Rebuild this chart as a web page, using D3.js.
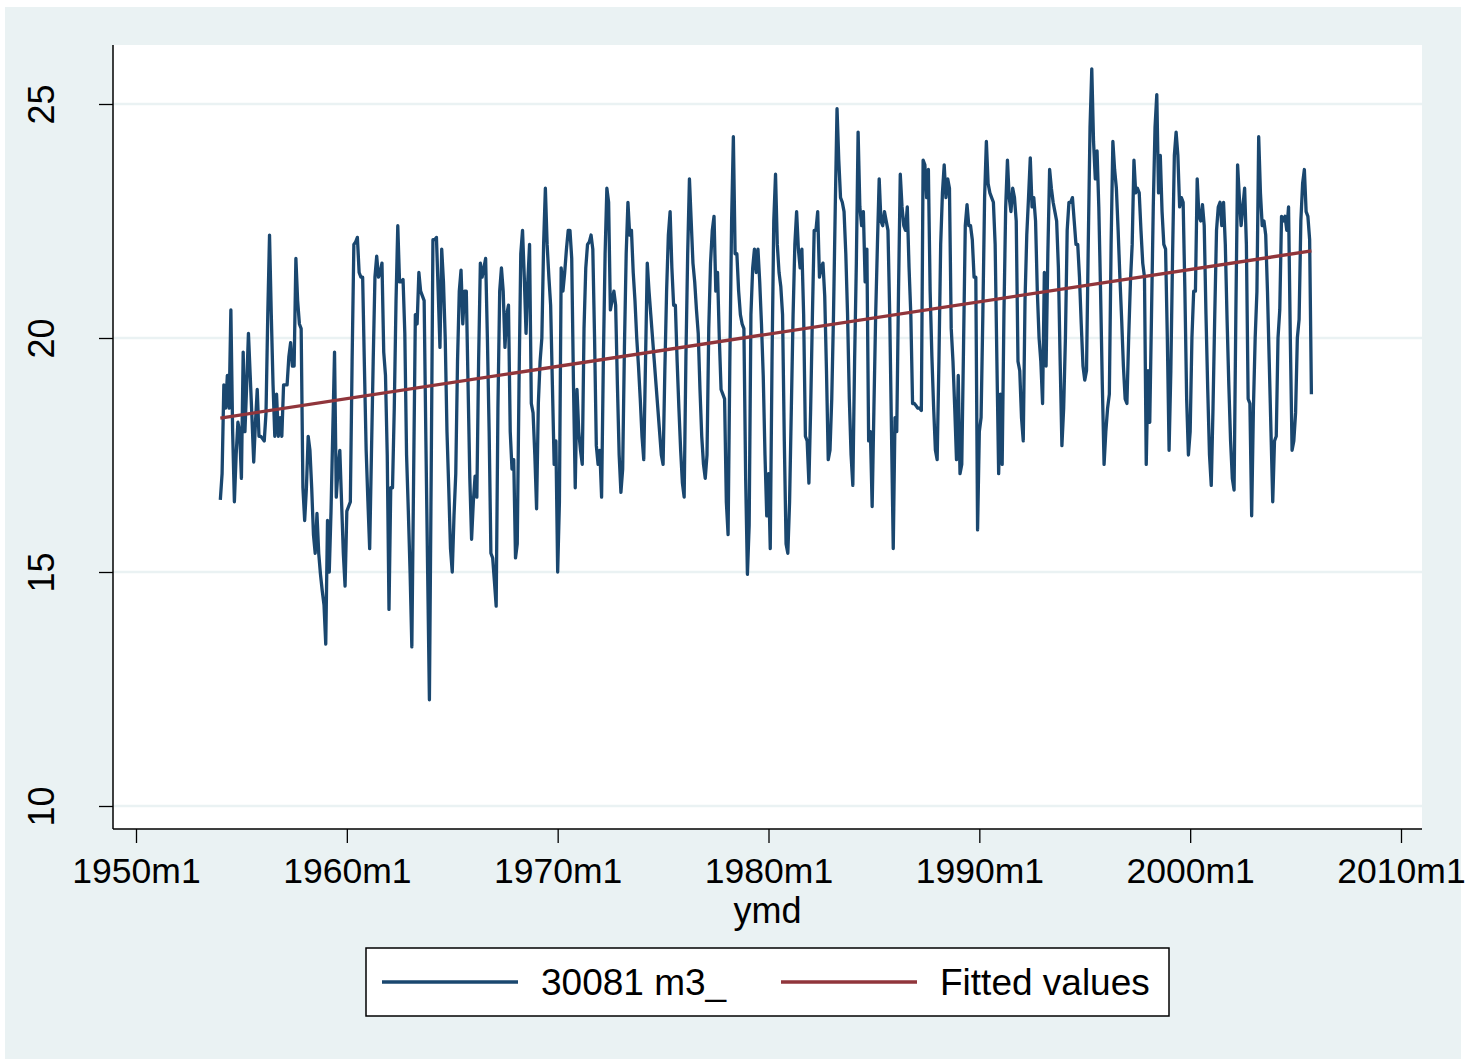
<!DOCTYPE html>
<html>
<head>
<meta charset="utf-8">
<script src="https://cdn.jsdelivr.net/npm/d3@7/dist/d3.min.js"></script>
<style>
  body { margin: 0; background: #fff; }
  text { font-family: "Liberation Sans", Arial, sans-serif; fill: #000; }
</style>
</head>
<body>
<div id="chart"></div>
<script>
// months counted from 1960m1 (Stata %tm); series starts 1954m1
var firstMonth = -72;

// 30081 m3_ , one row per year 1954..2005
var m3 = [
  16.54, 17.1, 19.0, 18.5, 19.2, 18.5, 20.6, 18.0, 16.5, 17.5, 18.2, 18.0,
  17.0, 19.7, 18.0, 19.0, 20.1, 19.2, 18.3, 17.35, 18.2, 18.9, 17.9, 17.9,
  17.85, 17.8, 18.4, 20.5, 22.2, 20.5, 19.0, 17.9, 18.8, 17.9, 18.3, 17.9,
  19.0, 19.0, 19.0, 19.6, 19.9, 19.4, 19.4, 21.7, 20.8, 20.3, 20.2, 16.8,
  16.1, 16.8, 17.9, 17.6, 16.8, 15.8, 15.4, 16.25, 15.4, 14.95, 14.6, 14.3,
  13.46, 16.1, 15.0, 16.3, 18.0, 19.7, 16.6, 17.2, 17.6, 16.5, 15.4, 14.7,
  16.3, 16.4, 16.5, 19.5, 22.0, 22.05, 22.15, 21.4, 21.3, 21.3, 19.4, 17.6,
  16.5, 15.5, 17.5, 19.5, 21.3, 21.75, 21.3, 21.4, 21.6, 19.7, 19.2, 17.5,
  14.2, 16.8, 16.8, 18.5, 20.8, 22.4, 21.2, 21.2, 21.25, 20.1, 17.5, 16.3,
  15.0, 13.4, 17.0, 20.5, 20.3, 21.4, 21.0, 20.9, 20.8, 17.8, 15.0, 12.27,
  17.0, 22.1, 22.1, 22.15, 21.0, 19.8, 21.9, 21.2, 20.0, 18.0, 16.8, 15.5,
  15.0, 16.2, 17.1, 19.5, 21.0, 21.45, 20.3, 21.0, 21.0, 19.0, 17.0, 15.7,
  16.5, 17.05, 16.6, 19.5, 21.6, 21.3, 21.5, 21.7, 20.0, 18.0, 15.4, 15.3,
  14.8, 14.27, 18.5, 21.0, 21.5, 21.0, 19.8, 20.5, 20.7, 18.0, 17.2, 17.4,
  15.3, 15.6, 19.0, 21.8, 22.3, 21.3, 20.1, 21.2, 22.0, 18.6, 18.4, 17.5,
  16.35, 18.6, 19.5, 20.0, 22.0, 23.2, 22.0, 21.3, 20.7, 19.0, 17.3, 17.8,
  15.0, 16.5, 21.5, 21.0, 21.4, 21.9, 22.3, 22.3, 21.7, 19.0, 16.8, 18.9,
  18.0, 17.6, 17.3, 20.2, 21.5, 22.0, 22.05, 22.2, 21.9, 20.0, 17.7, 17.3,
  17.6, 16.6, 19.5, 21.8, 23.2, 22.9, 20.6, 20.8, 21.0, 20.7, 19.0, 17.5,
  16.7, 17.2, 19.8, 21.8, 22.9, 22.2, 22.3, 21.4, 20.8, 20.0, 19.4, 18.7,
  17.9, 17.4, 19.5, 21.6, 21.0, 20.5, 20.0, 19.5, 19.0, 18.5, 18.0, 17.5,
  17.3, 19.3, 21.0, 22.2, 22.7, 21.5, 20.7, 20.7, 19.5, 18.5, 17.6, 16.9,
  16.6, 19.6, 21.8, 23.4, 22.5, 21.6, 21.2, 20.6, 20.1, 18.9, 17.9, 17.3,
  17.0, 17.5, 20.2, 21.6, 22.3, 22.6, 21.0, 21.4, 20.0, 18.9, 18.8, 18.7,
  16.5, 15.8, 19.5, 22.5, 24.3, 21.8, 21.8, 21.0, 20.5, 20.3, 20.2, 17.0,
  14.95, 16.0, 20.5, 21.5, 21.9, 21.4, 21.9, 21.2, 20.3, 19.2, 17.5, 16.2,
  17.1, 15.5, 19.5, 22.5, 23.5, 22.0, 21.4, 21.1, 20.5, 17.8, 15.6, 15.4,
  16.5, 18.5, 20.5, 22.0, 22.7, 21.9, 21.5, 21.9, 20.5, 17.9, 17.8, 16.9,
  18.5, 20.5, 22.3, 22.3, 22.7, 21.3, 21.5, 21.6, 20.9, 19.3, 17.4, 17.6,
  18.7, 20.5, 22.8, 24.9, 23.8, 23.0, 22.9, 22.7, 21.8, 20.5, 18.7, 17.5,
  16.85, 19.5, 21.6, 24.4, 22.8, 22.4, 22.7, 21.2, 21.9, 17.8, 18.0, 16.4,
  18.5, 20.5, 22.0, 23.4, 22.5, 22.4, 22.7, 22.5, 22.3, 20.5, 18.0, 15.5,
  18.3, 18.0, 21.0, 23.5, 22.8, 22.4, 22.3, 22.8, 21.5, 20.5, 18.6, 18.6,
  18.55, 18.5, 18.5, 18.45, 23.8, 23.7, 23.0, 23.6, 21.0, 19.6, 18.5, 17.6,
  17.4, 19.5, 22.0, 23.1, 23.7, 23.0, 23.4, 23.2, 20.2, 19.5, 18.5, 17.4,
  19.2, 17.1, 17.3, 19.8, 22.4, 22.85, 22.4, 22.4, 22.1, 21.3, 21.3, 15.9,
  18.0, 18.3, 20.5, 23.0, 24.2, 23.3, 23.1, 23.0, 22.9, 22.0, 19.5, 17.1,
  18.8, 17.3, 20.5, 22.8, 23.8, 23.0, 22.7, 23.2, 23.0, 22.5, 19.5, 19.3,
  18.3, 17.8, 20.8, 22.2, 23.0, 23.85, 22.8, 23.0, 22.5, 21.0, 20.0, 19.5,
  18.6, 21.4, 19.4, 21.8, 23.6, 23.2, 22.9, 22.7, 22.5, 21.5, 19.5, 17.7,
  18.5, 20.0, 22.3, 22.9, 22.9, 23.0, 22.5, 22.0, 22.0, 21.3, 20.3, 19.4,
  19.1, 19.3, 22.0, 24.5, 25.75, 24.2, 23.4, 24.0, 22.8, 21.0, 19.0, 17.3,
  18.0, 18.5, 18.8, 22.0, 24.2, 23.6, 23.2, 22.3, 21.3, 20.4, 19.4, 18.7,
  18.6, 20.0, 21.2, 22.0, 23.8, 23.1, 23.2, 23.1, 22.3, 21.6, 21.3, 17.3,
  19.3, 18.2, 20.5, 22.8, 24.5, 25.2, 23.1, 23.9, 22.7, 22.0, 21.9, 20.0,
  17.6, 19.3, 21.8, 23.9, 24.4, 23.9, 22.8, 23.0, 22.9, 21.0, 18.7, 17.5,
  18.0, 20.0, 21.0, 21.0, 23.4, 22.6, 22.5, 22.85, 22.4, 20.5, 18.9, 17.5,
  16.85, 18.5, 20.5, 22.3, 22.8, 22.9, 22.4, 22.9, 22.0, 20.4, 19.0, 17.8,
  17.0, 16.75, 20.5, 23.7, 23.0, 22.4, 22.8, 23.2, 22.0, 18.7, 18.6, 16.2,
  18.5, 20.0, 21.0, 24.3, 23.1, 22.4, 22.5, 22.2, 21.0, 19.5, 18.0, 16.5,
  17.8, 17.9, 20.0, 20.6, 22.6, 22.5, 22.6, 22.3, 22.8, 20.0, 17.6, 17.8,
  18.4, 20.0, 20.4, 22.5, 23.3, 23.6, 22.7, 22.6, 22.1, 18.8
];

// linear fit, value at first and last month
var fitted = [18.29, 21.86];

var xTicks = [-120, 0, 120, 240, 360, 480, 600];
var xLabels = ["1950m1", "1960m1", "1970m1", "1980m1", "1990m1", "2000m1", "2010m1"];
var yTicks = [10, 15, 20, 25];
var legendLabels = ["30081 m3_", "Fitted values"];

var navy = "#1a476f", maroon = "#90353b", bluish = "#eaf2f3";
var fs = 35.5;

var plot = {left: 113, right: 1422, top: 45, bottom: 829};

var x = d3.scaleLinear().domain([-120, 600]).range([136, 1401]);
var y = d3.scaleLinear().domain([10, 25]).range([806, 104]);

var data = m3.map(function(v, i) { return {t: firstMonth + i, v: v}; });
var lastMonth = firstMonth + m3.length - 1;
var fitData = [{t: firstMonth, v: fitted[0]}, {t: lastMonth, v: fitted[1]}];

var svg = d3.select("#chart").append("svg")
    .attr("width", 1465)
    .attr("height", 1060);

// graph region
svg.append("rect")
    .attr("x", 5).attr("y", 7)
    .attr("width", 1456).attr("height", 1052)
    .style("fill", bluish);

// plot region
svg.append("rect")
    .attr("x", plot.left).attr("y", plot.top)
    .attr("width", plot.right - plot.left)
    .attr("height", plot.bottom - plot.top)
    .style("fill", "#fff");

svg.selectAll(".grid")
    .data(yTicks)
  .enter().append("line")
    .attr("class", "grid")
    .attr("x1", plot.left).attr("x2", plot.right)
    .attr("y1", function(d) { return y(d); })
    .attr("y2", function(d) { return y(d); })
    .style("stroke", bluish)
    .style("stroke-width", 2.5);

var xAxis = d3.axisBottom(x)
    .tickValues(xTicks)
    .tickFormat(function(d, i) { return xLabels[i]; })
    .tickSize(14)
    .tickSizeOuter(0)
    .tickPadding(14.5);

var gx = svg.append("g")
    .attr("transform", "translate(0," + plot.bottom + ")")
    .call(xAxis);
gx.select(".domain").remove();
gx.selectAll("line").style("stroke", "#000").style("stroke-width", 1.3);
gx.selectAll("text").style("font-size", fs + "px").style("font-family", null);

var yAxis = d3.axisLeft(y)
    .tickValues(yTicks)
    .tickSize(14)
    .tickSizeOuter(0);

var gy = svg.append("g")
    .attr("transform", "translate(" + plot.left + ",0)")
    .call(yAxis);
gy.select(".domain").remove();
gy.selectAll("line").style("stroke", "#000").style("stroke-width", 1.3);
gy.selectAll("text")
    .attr("x", 0).attr("y", 0).attr("dy", 0)
    .attr("transform", "translate(-59,0) rotate(-90)")
    .style("text-anchor", "middle")
    .style("font-size", "36px")
    .style("font-family", null);

// axis lines
svg.append("line")
    .attr("x1", plot.left).attr("x2", plot.right)
    .attr("y1", plot.bottom).attr("y2", plot.bottom)
    .style("stroke", "#000").style("stroke-width", 1.5);
svg.append("line")
    .attr("x1", plot.left).attr("x2", plot.left)
    .attr("y1", plot.top).attr("y2", plot.bottom)
    .style("stroke", "#000").style("stroke-width", 1.5);

svg.append("text")
    .attr("x", (plot.left + plot.right) / 2)
    .attr("y", 923)
    .style("text-anchor", "middle")
    .style("font-size", "36px")
    .text("ymd");

var line = d3.line()
    .x(function(d) { return x(d.t); })
    .y(function(d) { return y(d.v); });

svg.append("path")
    .datum(data)
    .attr("d", line)
    .style("fill", "none")
    .style("stroke", navy)
    .style("stroke-width", 3.3)
    .style("stroke-linejoin", "round");

svg.append("path")
    .datum(fitData)
    .attr("d", line)
    .style("fill", "none")
    .style("stroke", maroon)
    .style("stroke-width", 3.3);

// legend
svg.append("rect")
    .attr("x", 366).attr("y", 948)
    .attr("width", 803).attr("height", 68)
    .style("fill", "#fff")
    .style("stroke", "#000")
    .style("stroke-width", 1.5);

var legend = svg.selectAll(".legend")
    .data(legendLabels)
  .enter().append("g")
    .attr("class", "legend")
    .attr("transform", function(d, i) { return "translate(" + (382 + i * 399) + ",982)"; });

legend.append("line")
    .attr("x1", 0).attr("x2", 136)
    .style("stroke", function(d, i) { return i ? maroon : navy; })
    .style("stroke-width", 3.3);

legend.append("text")
    .attr("x", 159)
    .attr("y", 13)
    .style("font-size", "37px")
    .text(function(d) { return d; });
</script>
</body>
</html>
